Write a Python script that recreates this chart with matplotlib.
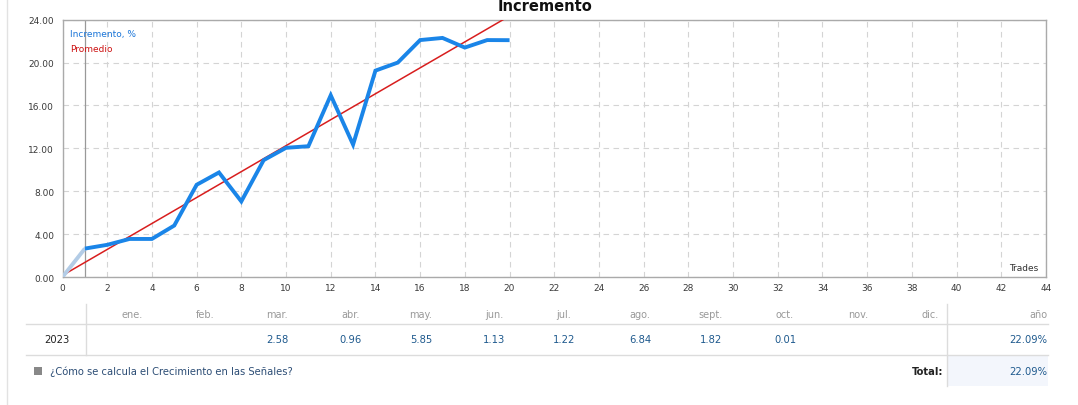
import matplotlib
matplotlib.use("Agg")
import matplotlib.pyplot as plt
from matplotlib.patches import Rectangle
from matplotlib.lines import Line2D

W, H = 1078, 406

# ---- data ----
trades = list(range(0, 21))
growth = [0.0, 2.65, 3.0, 3.55, 3.55, 4.8, 8.6, 9.75, 7.05, 10.9, 12.05,
          12.2, 16.95, 12.35, 19.25, 20.0, 22.1, 22.3, 21.4, 22.1, 22.09]
avg_x = [0, 24]
avg_intercept = 0.15
avg_slope = 1.21
months = ["ene.", "feb.", "mar.", "abr.", "may.", "jun.", "jul.", "ago.",
          "sept.", "oct.", "nov.", "dic."]
year_label = "2023"
month_values = ["", "", "2.58", "0.96", "5.85", "1.13", "1.22", "6.84",
                "1.82", "0.01", "", ""]
year_total = "22.09%"
grand_total = "22.09%"
xticks = list(range(0, 45, 2))
yticks = [0, 4, 8, 12, 16, 20, 24]

plt.rcParams['font.family'] = ['DejaVu Sans']

fig = plt.figure(figsize=(W / 100, H / 100), dpi=100)
fig.patch.set_facecolor("white")

def fx(x):
    return x / W

def fy(y):
    return 1 - y / H

ax_l, ax_r, ax_t, ax_b = 62.5, 1046, 20.7, 278
ax = fig.add_axes([fx(ax_l), fy(ax_b), fx(ax_r - ax_l), (ax_b - ax_t) / H])
ax.set_xlim(0, 44)
ax.set_ylim(0, 24)
ax.set_xticks(xticks)
ax.set_yticks(yticks)
ax.set_xticklabels([str(t) for t in xticks])
ax.set_yticklabels([f"{t:.2f}" for t in yticks])
ax.tick_params(axis='both', length=0, labelsize=6.5, colors="#3a3a3a", pad=4)
ax.tick_params(axis='y', pad=6)
ax.grid(True, color="#d4d4d4", linestyle=(0, (5, 4)), linewidth=0.8)
for s in ax.spines.values():
    s.set_color("#aaaaaa")
    s.set_linewidth(1)

# vertical marker at first trade
ax.axvline(1, color="#999999", linewidth=0.9, zorder=2)

# average line
ay = [avg_intercept + avg_slope * v for v in avg_x]
ax.plot(avg_x, ay, color="#d81e1e", linewidth=1.1, zorder=3)

# growth line
ax.plot(trades[:2], growth[:2], color="#b3cce6", linewidth=2.8, zorder=4,
        solid_capstyle='butt')
ax.plot(trades[1:], growth[1:], color="#1a85e8", linewidth=2.8, zorder=5,
        solid_joinstyle='miter', solid_capstyle='butt')

ax.text(0.0075, 0.965, "Incremento, %", transform=ax.transAxes, fontsize=6.5,
        color="#1a75d8", va='top', ha='left')
ax.text(0.0075, 0.905, "Promedio", transform=ax.transAxes, fontsize=6.5,
        color="#cc1111", va='top', ha='left')
ax.text(0.992, 0.018, "Trades", transform=ax.transAxes, fontsize=6.5,
        color="#333333", va='bottom', ha='right')

# title
fig.text(fx(545), fy(11), "Incremento", fontsize=10.5, fontweight='bold',
         ha='center', va='baseline', color="#111111")

# left page border
fig.add_artist(Line2D([fx(7), fx(7)], [0, 1], color="#e2e2e2", linewidth=1))

# ---- table ----
month_x = [132, 205, 277, 351, 421, 494, 564, 640, 711, 785, 858, 930]
hdr_y = 315
row_y = 340
tot_y = 372
for mx, m in zip(month_x, months):
    fig.text(fx(mx), fy(hdr_y), m, fontsize=7, color="#999999",
             ha='center', va='center')
fig.text(fx(1047), fy(hdr_y), "año", fontsize=7, color="#999999",
         ha='right', va='center')

# total background
fig.add_artist(Rectangle((fx(947), fy(387)), fx(1048 - 947), (387 - 357) / H,
                         facecolor="#f3f6fc", edgecolor='none'))

fig.add_artist(Line2D([fx(26), fx(1048)], [fy(325), fy(325)],
                      color="#dcdcdc", linewidth=1))
fig.add_artist(Line2D([fx(26), fx(1048)], [fy(356), fy(356)],
                      color="#dcdcdc", linewidth=1))
fig.add_artist(Line2D([fx(86), fx(86)], [fy(305), fy(356)],
                      color="#dcdcdc", linewidth=1))
fig.add_artist(Line2D([fx(947), fx(947)], [fy(305), fy(387)],
                      color="#dcdcdc", linewidth=1))

fig.text(fx(57), fy(row_y), year_label, fontsize=7.2, color="#222222",
         ha='center', va='center')
for mx, v in zip(month_x, month_values):
    if v:
        fig.text(fx(mx), fy(row_y), v, fontsize=7.2, color="#1f5a8e",
                 ha='center', va='center')
fig.text(fx(1047), fy(row_y), year_total, fontsize=7.2, color="#1f5a8e",
         ha='right', va='center')

fig.text(fx(943), fy(tot_y), "Total:", fontsize=7.2, color="#222222",
         fontweight='bold', ha='right', va='center')
fig.text(fx(1047), fy(tot_y), grand_total, fontsize=7.2, color="#1f5a8e",
         ha='right', va='center')

# help link
fig.add_artist(Rectangle((fx(34), fy(376)), fx(8), 8 / H,
                         facecolor="#888888", edgecolor='none'))
fig.text(fx(50), fy(tot_y), "¿Cómo se calcula el Crecimiento en las Señales?",
         fontsize=7.2, color="#2c4d75", ha='left', va='center')

fig.savefig("out.png", dpi=100, facecolor="white")
